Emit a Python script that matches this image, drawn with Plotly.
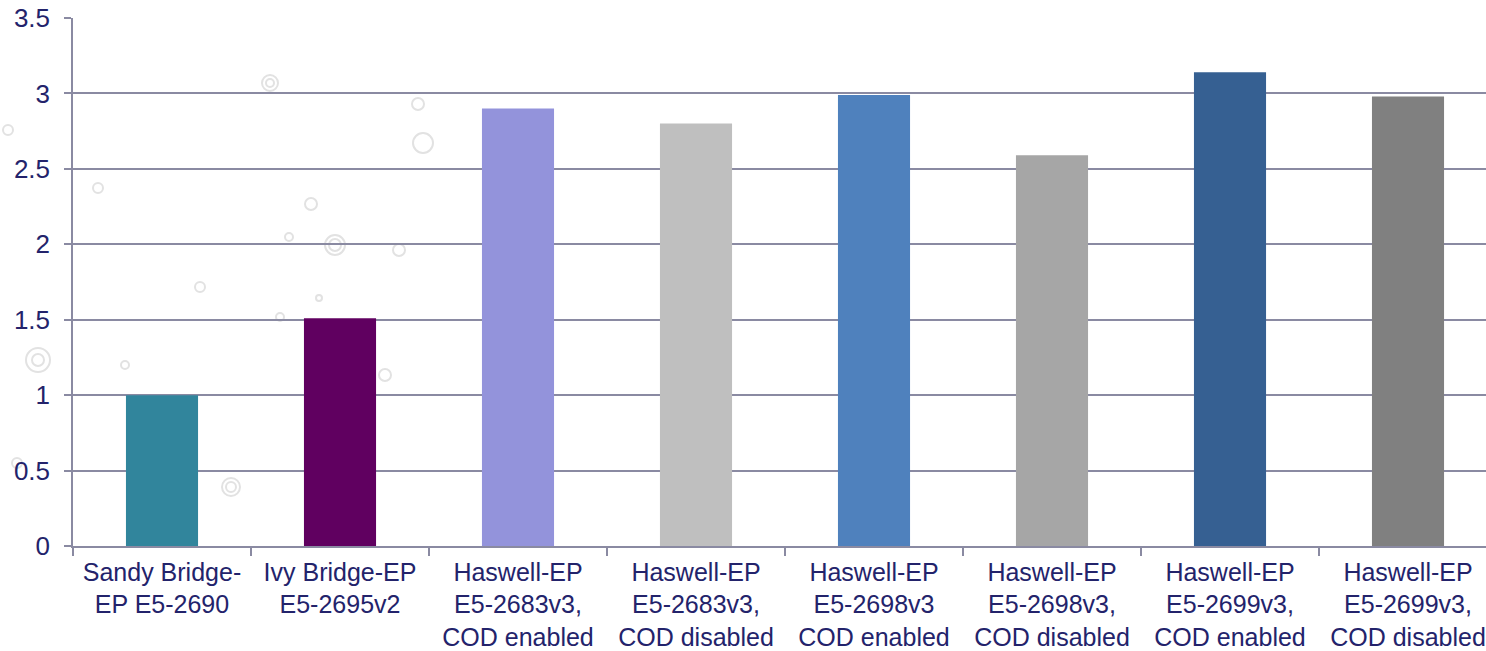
import plotly.graph_objects as go

categories = [
    "Sandy Bridge-<br>EP E5-2690",
    "Ivy Bridge-EP<br>E5-2695v2",
    "Haswell-EP<br>E5-2683v3,<br>COD enabled",
    "Haswell-EP<br>E5-2683v3,<br>COD disabled",
    "Haswell-EP<br>E5-2698v3<br>COD enabled",
    "Haswell-EP<br>E5-2698v3,<br>COD disabled",
    "Haswell-EP<br>E5-2699v3,<br>COD enabled",
    "Haswell-EP<br>E5-2699v3,<br>COD disabled",
]
values = [1.0, 1.51, 2.90, 2.80, 2.99, 2.59, 3.14, 2.98]
colors = ["#31859C", "#600060", "#9393DB", "#BFBFBF", "#4F81BD", "#A6A6A6", "#366092", "#808080"]
y_ticks = [0, 0.5, 1, 1.5, 2, 2.5, 3, 3.5]
y_ticklabels = ["0", "0.5", "1", "1.5", "2", "2.5", "3", "3.5"]

text_color = "#23236B"
grid_color = "#8A8AA2"

W, H = 1486, 651
ML, MR, MT, MB = 73, 0, 18, 105

fig = go.Figure(go.Bar(
    x=categories,
    y=values,
    marker=dict(color=colors, line=dict(width=0)),
    width=0.405,
))

# faint decorative background circles (page pixel centre, radius)
deco = [(270, 83, 8), (270, 83, 4), (418, 104, 6), (423, 143, 10),
        (98, 188, 5), (311, 204, 6), (335, 245, 10), (335, 245, 6),
        (289, 237, 4), (399, 250, 6), (200, 287, 5), (319, 298, 3),
        (280, 317, 4), (38, 360, 12), (38, 360, 6), (385, 375, 6),
        (125, 365, 4), (231, 487, 9), (231, 487, 5), (17, 463, 5), (8, 130, 5)]
pw, ph = W - ML - MR, H - MT - MB
shapes = []
for cx, cy, r in deco:
    shapes.append(dict(type="circle", xref="paper", yref="paper", layer="below",
                       x0=(cx - r - ML) / pw, x1=(cx + r - ML) / pw,
                       y0=(H - MB - cy - r) / ph, y1=(H - MB - cy + r) / ph,
                       line=dict(color="#E2E2E2", width=2)))

fig.update_layout(
    width=W, height=H,
    margin=dict(l=ML, r=MR, t=MT, b=MB, autoexpand=False),
    paper_bgcolor="white", plot_bgcolor="rgba(0,0,0,0)",
    font=dict(family="Liberation Sans, Arial", size=25, color=text_color),
    showlegend=False,
    shapes=shapes,
)
fig.update_xaxes(
    type="category",
    range=[-0.5, -0.5 + pw / 178],
    automargin=False,
    ticks="outside", tickson="boundaries", ticklen=8, tickcolor=grid_color, tickwidth=1.5,
    ticklabelstandoff=3,
    showline=True, linecolor=grid_color, linewidth=1.5,
    showgrid=False, zeroline=False,
    tickfont=dict(size=25, color=text_color),
    tickangle=0,
)
fig.update_yaxes(
    range=[0, 3.5],
    automargin=False,
    tickmode="array", tickvals=y_ticks, ticktext=y_ticklabels,
    ticks="outside", ticklen=7, tickcolor=grid_color, tickwidth=1.5,
    ticklabelstandoff=9,
    showline=True, linecolor=grid_color, linewidth=1.5,
    showgrid=True, gridcolor=grid_color, gridwidth=1.5,
    zeroline=False,
    tickfont=dict(size=26, color=text_color),
)

fig.write_html("out.html")
